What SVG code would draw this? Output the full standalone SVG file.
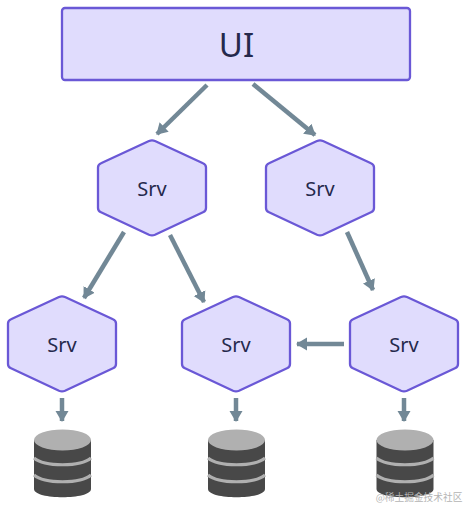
<svg xmlns="http://www.w3.org/2000/svg" width="466" height="507" viewBox="0 0 466 507">
<style>
.box{fill:#e0dcfd;stroke:#6a58d6;stroke-width:2.300;stroke-linejoin:round}
.t{font-family:"Noto Sans","Liberation Sans",sans-serif;fill:#25294c;text-anchor:middle}
.s{font-size:20px}
.c{fill:none;stroke:#728896;stroke-width:4.500}
.top{fill:#b0b0b0}.body{fill:#484848}.band{fill:none;stroke:#b0b0b0;stroke-width:3}
</style>
<defs>
<marker id="a" markerUnits="userSpaceOnUse" markerWidth="12" markerHeight="14" refX="10" refY="7" orient="auto"><path d="M0 0.500L11 7L0 13.500Z" fill="#728896"/></marker>
<path id="hex" class="box" d="M-3,-47Q0,-48.300 3,-47L51,-24.800Q54,-23.500 54,-20.500L54,20Q54,23 51,24.300L3,46.700Q0,48 -3,46.700L-51,24.300Q-54,23 -54,20L-54,-20.500Q-54,-23.500 -51,-24.800Z"/>
<g id="db">
<path class="body" d="M-28.500 -20V29C-28.500 40 28.500 40 28.500 29V-20Z"/>
<ellipse class="top" cx="0" cy="-20" rx="28.500" ry="10.500"/>
<path class="band" d="M-28.500 -2C-18 7 18 7 28.500 -2"/>
<path class="band" d="M-28.500 15C-18 24 18 24 28.500 15"/>
</g>
</defs>
<g id="connectors">
<path class="c" marker-end="url(#a)" d="M207 85L157 134"/>
<path class="c" marker-end="url(#a)" d="M253 84L315 135"/>
<path class="c" marker-end="url(#a)" d="M124 232L84 298"/>
<path class="c" marker-end="url(#a)" d="M170 235L204 302"/>
<path class="c" marker-end="url(#a)" d="M347 232L373 290"/>
<path class="c" marker-end="url(#a)" d="M344 344L297 344"/>
<path class="c" marker-end="url(#a)" d="M62 398L62 421"/>
<path class="c" marker-end="url(#a)" d="M236 398L236 421"/>
<path class="c" marker-end="url(#a)" d="M404 398L404 421"/>
</g>
<g id="ui"><rect class="box" x="62" y="8" width="348" height="72" rx="3"/><text class="t" x="236.500" y="57" font-size="33">UI</text></g>
<g id="srv1"><use href="#hex" x="152" y="188"/><text class="t s" x="152" y="196">Srv</text></g>
<g id="srv2"><use href="#hex" x="320" y="188"/><text class="t s" x="320" y="196">Srv</text></g>
<g id="srv3"><use href="#hex" x="62" y="344"/><text class="t s" x="62" y="352">Srv</text></g>
<g id="srv4"><use href="#hex" x="236" y="344"/><text class="t s" x="236" y="352">Srv</text></g>
<g id="srv5"><use href="#hex" x="404" y="344"/><text class="t s" x="404" y="352">Srv</text></g>
<g id="db1"><use href="#db" x="62.500" y="460"/></g>
<g id="db2"><use href="#db" x="236.500" y="460"/></g>
<g id="db3"><use href="#db" x="405" y="460"/></g>
<text x="419" y="501" font-size="9.700" fill="#b4b4b4" text-anchor="middle" font-family="'Noto Sans CJK SC',sans-serif">@稀土掘金技术社区</text>
</svg>
